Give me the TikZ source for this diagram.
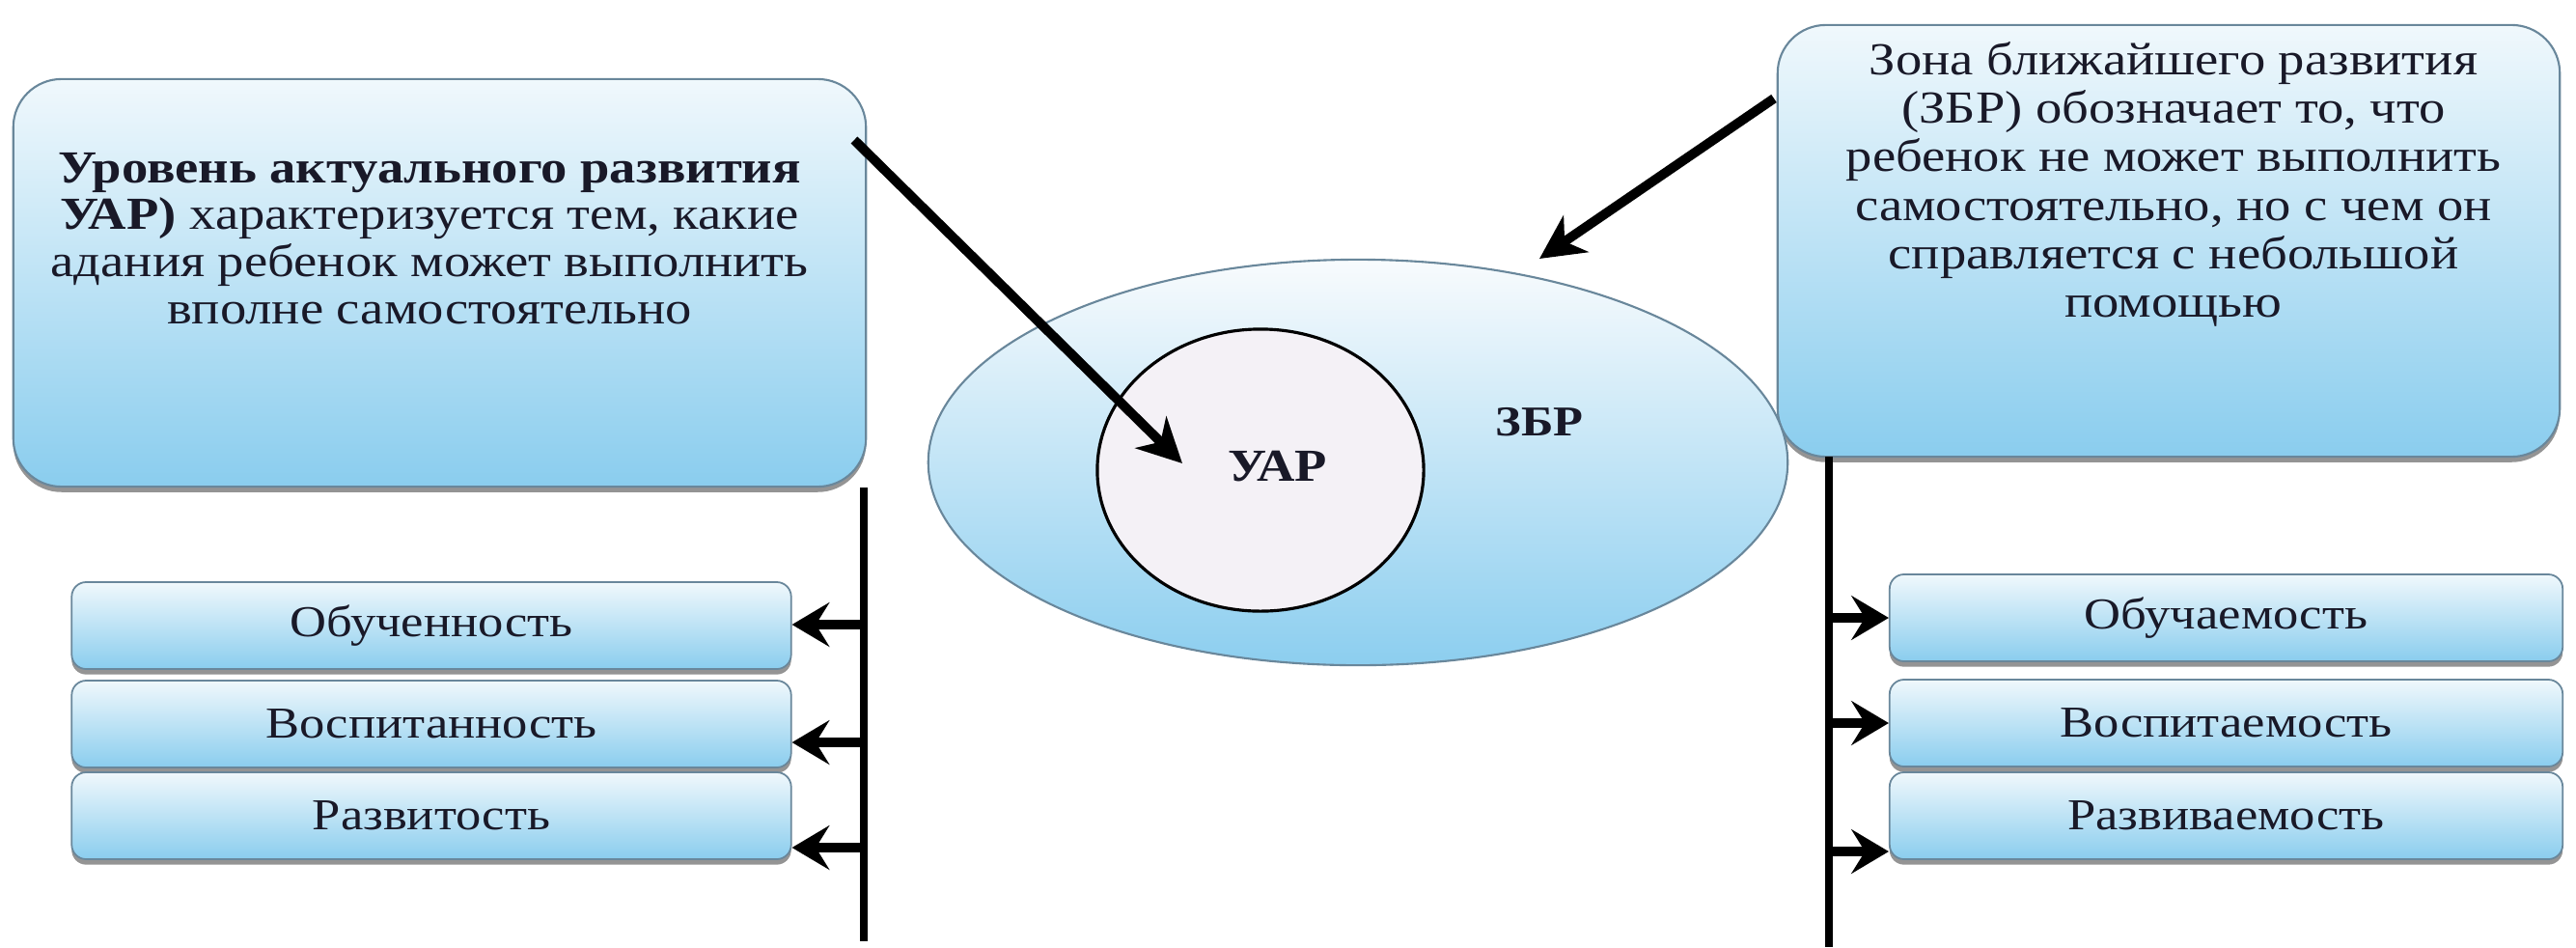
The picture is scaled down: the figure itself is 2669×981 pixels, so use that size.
\documentclass[tikz,border=0pt]{standalone}
\usepackage{fontspec}
\setmainfont{Liberation Serif}[FakeStretch=1.15]
\usetikzlibrary{arrows.meta,shadows,shapes.geometric}
\definecolor{boxtop}{RGB}{240,248,252}
\definecolor{boxbot}{RGB}{138,205,238}
\definecolor{boxline}{RGB}{105,135,155}
\definecolor{txt}{RGB}{25,25,40}
\definecolor{elltop}{RGB}{248,251,253}
\definecolor{ellbot}{RGB}{140,206,239}
\definecolor{innerfill}{RGB}{244,241,246}
\begin{document}
\begin{tikzpicture}[x=0.01cm,y=-0.01cm,
  shad/.style={drop shadow={shadow xshift=0pt,shadow yshift=-1.6pt,fill=black!60,opacity=0.7}},
  bigbox/.style={draw=boxline,line width=0.6pt,rounded corners=0.5cm,top color=boxtop,bottom color=boxbot,shad},
  smallbox/.style={draw=boxline,line width=0.5pt,rounded corners=0.15cm,top color=boxtop,bottom color=boxbot,shad,
     minimum height=0.9cm,text=txt,font=\fontsize{13}{14}\selectfont},
  txtnode/.style={text=txt,font=\fontsize{13.5}{13.9}\selectfont,align=center,inner sep=0pt},
  vline/.style={line width=2.1pt,black},
  smallarr/.style={line width=2.6pt,-{Stealth[length=11pt,width=13pt,inset=4pt]}},
  bigarr/.style={line width=2.8pt,-{Stealth[length=13pt,width=13pt,inset=4pt]}}
]
\useasboundingbox (0,0) rectangle (2669,981);

% big boxes
\node[bigbox,minimum width=8.83cm,minimum height=4.22cm] (lbox) at (455.5,293) {};
\node[bigbox,minimum width=8.10cm,minimum height=4.47cm] (rbox) at (2247,249.5) {};

\node[txtnode] (ltext) at (445,247) {\textbf{Уровень актуального развития}\\
\textbf{УАР)} характеризуется тем, какие\\
адания ребенок может выполнить\\
вполне самостоятельно};

\node[txtnode,font=\fontsize{13.5}{14.3}\selectfont] (rtext) at (2252,191) {Зона ближайшего развития\\
(ЗБР) обозначает то, что\\
ребенок не может выполнить\\
самостоятельно, но с чем он\\
справляется с небольшой\\
помощью};

% ellipses
\node[ellipse,draw=boxline,line width=0.6pt,top color=elltop,bottom color=ellbot,
      minimum width=8.9cm,minimum height=4.2cm] (zbr) at (1407,479) {};
\node[ellipse,draw=black,line width=0.9pt,fill=innerfill,
      minimum width=3.38cm,minimum height=2.92cm] (uar) at (1306,487) {};
\node[txtnode,font=\fontsize{13.5}{14}\selectfont\bfseries] (uarlbl) at (1324,483) {УАР};
\node[txtnode,font=\fontsize{12.5}{14}\selectfont\bfseries] (zbrlbl) at (1595,437) {ЗБР};

% small boxes left
\node[smallbox,minimum width=7.45cm] (l1) at (447,648) {Обученность};
\node[smallbox,minimum width=7.45cm] (l2) at (447,750) {Воспитанность};
\node[smallbox,minimum width=7.45cm] (l3) at (447,845) {Развитость};
% small boxes right
\node[smallbox,minimum width=6.97cm] (r1) at (2306.5,640) {Обучаемость};
\node[smallbox,minimum width=6.97cm] (r2) at (2306.5,749) {Воспитаемость};
\node[smallbox,minimum width=6.97cm] (r3) at (2306.5,845) {Развиваемость};

% vertical lines
\coordinate (lend) at (895,975);
\coordinate (rtop) at (1895,473);
\coordinate (rend) at (1895,981);
\draw[vline] (lbox.south east -| lend) -- (lend);
\draw[vline] (rtop) -- (rend);

% small arrows
\draw[smallarr] ([yshift=0.01cm]l1.east -| lend) -- ([yshift=0.01cm]l1.east);
\draw[smallarr] ([yshift=-0.19cm]l2.east -| lend) -- ([yshift=-0.19cm]l2.east);
\draw[smallarr] ([yshift=-0.33cm]l3.east -| lend) -- ([yshift=-0.33cm]l3.east);
\draw[smallarr] (r1.west -| rend) -- (r1.west);
\draw[smallarr] (r2.west -| rend) -- (r2.west);
\draw[smallarr] ([yshift=-0.37cm]r3.west -| rend) -- ([yshift=-0.37cm]r3.west);

% diagonal arrows
\coordinate (a1s) at (885,145);
\coordinate (a1e) at (1225,480);
\coordinate (a2s) at (1838,102);
\coordinate (a2e) at (1595,268);
\draw[bigarr] (a1s) -- (a1e);
\draw[bigarr] (a2s) -- (a2e);
\end{tikzpicture}
\end{document}
